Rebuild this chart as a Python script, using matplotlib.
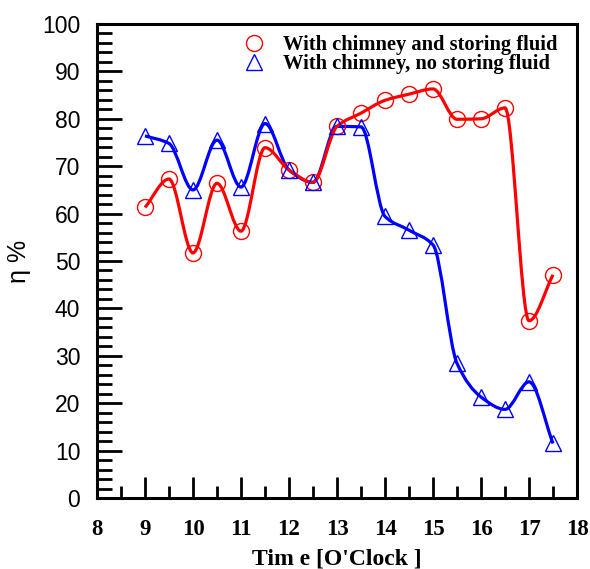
import numpy as np
import matplotlib
matplotlib.use('Agg')
import matplotlib.pyplot as plt
from matplotlib.path import Path
from matplotlib.patches import PathPatch
from matplotlib.lines import Line2D
from matplotlib.ticker import MultipleLocator

# time of day (hours)
hours = [9, 9.5, 10, 10.5, 11, 11.5, 12, 12.5, 13, 13.5, 14, 14.5, 15, 15.5, 16, 16.5, 17, 17.5]
# efficiency, chimney + storing fluid
eta_fluid = [61.3, 67.3, 51.7, 66.4, 56.3, 73.9, 69.2, 66.6, 78.4, 81.2, 83.9, 85.2, 86.3, 79.9, 80.0, 82.3, 37.4, 47.1]
# efficiency, chimney only
eta_nofluid = [76.4, 74.8, 65.0, 75.5, 65.6, 79.0, 69.2, 66.6, 78.4, 78.3, 59.4, 56.5, 53.4, 28.4, 21.3, 18.7, 24.5, 11.5]

lbl_fluid = 'With chimney and storing fluid'
lbl_nofluid = 'With chimney, no storing fluid'


def slopes(x, y):
    # monotone (Fritsch-Carlson) tangents so the curve has no overshoot
    x = np.asarray(x, float); y = np.asarray(y, float)
    h = np.diff(x); m = np.diff(y) / h
    d = np.zeros_like(y)
    for i in range(1, len(y) - 1):
        if m[i-1] * m[i] > 0:
            w1 = 2*h[i] + h[i-1]; w2 = h[i] + 2*h[i-1]
            d[i] = (w1 + w2) / (w1/m[i-1] + w2/m[i])
    d[0] = m[0]; d[-1] = m[-1]
    return d


def smooth_path(x, y):
    d = slopes(x, y)
    verts = [(x[0], y[0])]
    codes = [Path.MOVETO]
    for i in range(len(x) - 1):
        h = x[i+1] - x[i]
        verts += [(x[i] + h/3, y[i] + d[i]*h/3),
                  (x[i+1] - h/3, y[i+1] - d[i+1]*h/3),
                  (x[i+1], y[i+1])]
        codes += [Path.CURVE4]*3
    return Path(verts, codes)


fig = plt.figure(figsize=(5.9, 5.69), dpi=100)
ax = fig.add_axes([0.1644, 0.1248, 0.8136, 0.833])

for y, col in ((eta_nofluid, 'blue'), (eta_fluid, 'red')):
    ax.add_patch(PathPatch(smooth_path(hours, y), facecolor='none', edgecolor=col, lw=2.3, zorder=2))

ax.plot(hours, eta_fluid, ls='none', marker='o', ms=11.5, mfc='none', mec='red', mew=1.0, zorder=3)
ax.plot(hours, eta_nofluid, ls='none', marker='^', ms=11.5, mfc='none', mec='blue', mew=1.0, zorder=3)

ax.set_xlim(8, 18)
ax.set_ylim(0, 100)
ax.xaxis.set_major_locator(MultipleLocator(1))
ax.xaxis.set_minor_locator(MultipleLocator(0.5))
ax.yaxis.set_major_locator(MultipleLocator(10))
ax.yaxis.set_minor_locator(MultipleLocator(2))

ax.tick_params(axis='both', which='both', direction='in', top=False, right=False, width=2)
ax.tick_params(axis='y', which='major', length=18, pad=12)
ax.tick_params(axis='y', which='minor', length=11)
ax.tick_params(axis='x', which='major', length=15, pad=15)
ax.tick_params(axis='x', which='minor', length=9)
for s in ax.spines.values():
    s.set_linewidth(2.2)

for t in ax.get_yticklabels():
    t.set_fontfamily('Liberation Sans'); t.set_fontsize(16.5)
for t in ax.get_xticklabels():
    t.set_fontfamily('Liberation Serif'); t.set_fontsize(16.5); t.set_fontweight('bold')

ax.set_xlabel("Tim e [O'Clock ]", family='Liberation Serif', fontweight='bold', fontsize=17, labelpad=6)
ax.set_ylabel('η %', family='Liberation Sans', fontsize=18, labelpad=8)

handles = [Line2D([], [], ls='none', marker='o', ms=11.5, mfc='none', mec='red', mew=1.0),
           Line2D([], [], ls='none', marker='^', ms=11.5, mfc='none', mec='blue', mew=1.0)]
ax.legend(handles, [lbl_fluid, lbl_nofluid], loc='upper right', frameon=False,
          prop={'family': 'Liberation Serif', 'weight': 'bold', 'size': 14.8},
          handlelength=2.0, handletextpad=0.45, labelspacing=-0.05,
          borderaxespad=0.3, bbox_to_anchor=(0.99, 1.007))

fig.savefig('out.png', dpi=100)
